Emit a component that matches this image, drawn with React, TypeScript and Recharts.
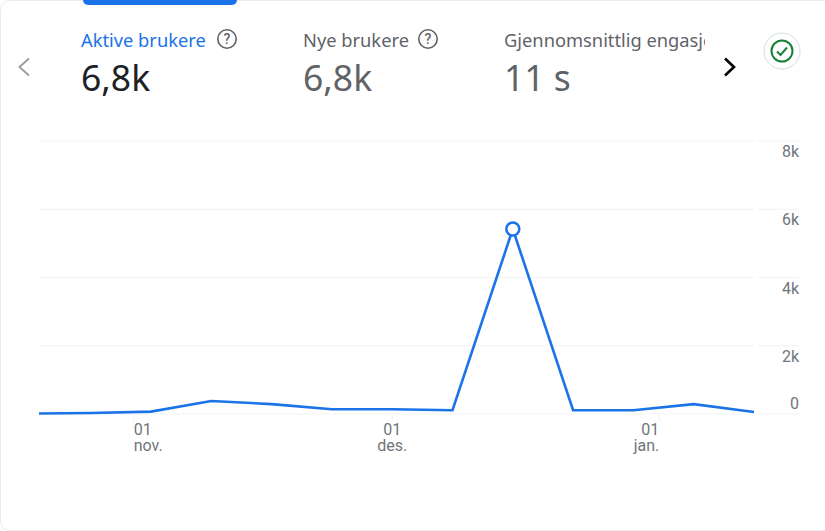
import { LineChart, Line, XAxis, YAxis, CartesianGrid } from "recharts";

// days relative to 1 Nov
const dayOffsets = [-11, -5, 2, 9, 16, 23, 30, 37, 44, 51, 58, 65, 72];
const activeUsers = [15, 30, 70, 380, 290, 140, 140, 110, 5420, 110, 110, 290, 60];
const peakIndex = 8;

const xTicks = [0, 30, 61];
const xDayLabels = ["01", "01", "01"];
const xMonthLabels = ["nov.", "des.", "jan."];
const xAnchors = ["start", "middle", "end"];

const yTicks = [0, 2000, 4000, 6000, 8000];
const yLabels = ["0", "2k", "4k", "6k", "8k"];

const chartData = dayOffsets.map((day, i) => ({ day, users: activeUsers[i] }));

const BLUE = "#1a73e8";
const GREY = "#5f6368";
const GRID = "#f1f3f4";
const GREEN = "#188038";
const LABEL_FONT = "'Noto Sans', sans-serif";

function MonthTick({ x, y, payload }: any) {
  const i = xTicks.indexOf(payload.value);
  return (
    <g>
      <line x1={x} x2={x} y1={y - 8} y2={y} stroke={GRID} />
      <text x={x} y={y + 13} textAnchor={xAnchors[i] as any} fontSize={16} fill="#70757a" fontFamily="Roboto">
        <tspan x={x} dy={0}>{xDayLabels[i]}</tspan>
        <tspan x={x} dy={16}>{xMonthLabels[i]}</tspan>
      </text>
    </g>
  );
}

function ValueTick({ x, y, payload }: any) {
  const i = yTicks.indexOf(payload.value);
  const below = payload.value !== 0;
  return (
    <g>
      <line x1={x - 4} x2={x + 37} y1={y} y2={y} stroke={GRID} />
      <text x={x + 37} y={below ? y + 16 : y - 5} textAnchor="end" fontSize={16} fill="#70757a" fontFamily="Roboto">
        {yLabels[i]}
      </text>
    </g>
  );
}

function PeakDot({ cx, cy, index }: any) {
  if (index !== peakIndex) return <g key={index} />;
  return <circle key={index} cx={cx} cy={cy} r={6.5} fill="#fff" stroke={BLUE} strokeWidth={2.5} />;
}

function HelpIcon({ left }: { left: number }) {
  return (
    <svg width={22} height={22} viewBox="0 0 22 22" style={{ position: "absolute", left, top: 28 }}>
      <circle cx={11} cy={11} r={9.2} fill="none" stroke={GREY} strokeWidth={1.6} />
      <text x={11} y={16} textAnchor="middle" fontSize={14} fill={GREY} fontFamily="Roboto" fontWeight={500}>?</text>
    </svg>
  );
}

function Metric({ left, label, value, color, valueColor, width }: any) {
  return (
    <div style={{ position: "absolute", left, top: 0, width, height: 110, overflow: "hidden", whiteSpace: "nowrap", fontFamily: LABEL_FONT }}>
      <div style={{ position: "absolute", top: 28, left: 0, fontSize: 18.3, lineHeight: "24px", color }}>{label}</div>
      <div style={{ position: "absolute", top: 54, left: 0, fontSize: 35.5, lineHeight: "46px", color: valueColor }}>{value}</div>
    </div>
  );
}

export default function App() {
  return (
    <div style={{ position: "absolute", left: 0, top: 0, width: 825, height: 531, background: "#fff", overflow: "hidden" }}>
      <div style={{ position: "absolute", left: 0, top: 0, width: 840, height: 529, border: "1px solid #e8eaed", borderRadius: 10 }} />
      <div style={{ position: "absolute", left: 83, top: 0, width: 154, height: 5, background: BLUE, borderRadius: "0 0 5px 5px" }} />

      <Metric left={81} width={135} label="Aktive brukere" value="6,8k" color={BLUE} valueColor="#202124" />
      <HelpIcon left={216} />
      <Metric left={303} width={115} label="Nye brukere" value="6,8k" color={GREY} valueColor={GREY} />
      <HelpIcon left={417} />
      <Metric left={504} width={201} label="Gjennomsnittlig engasjement" value="11 s" color={GREY} valueColor={GREY} />

      <svg width={16} height={24} viewBox="0 0 16 24" style={{ position: "absolute", left: 16, top: 55 }}>
        <path d="M13 3.5 L3.5 12 L13 20.5" fill="none" stroke="#9aa0a6" strokeWidth={2} />
      </svg>
      <svg width={16} height={24} viewBox="0 0 16 24" style={{ position: "absolute", left: 722, top: 55 }}>
        <path d="M3 3.5 L12 12 L3 20.5" fill="none" stroke="#000" strokeWidth={2.6} />
      </svg>
      <svg width={38} height={38} viewBox="0 0 38 38" style={{ position: "absolute", left: 763, top: 32 }}>
        <circle cx={19} cy={19} r={18} fill="#fff" stroke="#dadce0" />
        <circle cx={19} cy={19} r={10.5} fill="none" stroke={GREEN} strokeWidth={2} />
        <path d="M14 19.5 L17.5 23 L24 15.5" fill="none" stroke={GREEN} strokeWidth={2} />
      </svg>

      <div style={{ position: "absolute", left: 0, top: 0 }}>
        <LineChart width={825} height={531} data={chartData} margin={{ top: 141, right: 11, bottom: 57, left: 39 }}>
          <CartesianGrid horizontal vertical={false} stroke={GRID} />
          <XAxis
            dataKey="day"
            type="number"
            domain={[-11, 72]}
            ticks={xTicks}
            interval={0}
            axisLine={false}
            tickLine={false}
            height={60}
            tick={<MonthTick />}
          />
          <YAxis
            orientation="right"
            domain={[0, 8000]}
            ticks={yTicks}
            axisLine={false}
            tickLine={false}
            width={60}
            tick={<ValueTick />}
          />
          <Line
            type="linear"
            dataKey="users"
            stroke={BLUE}
            strokeWidth={2.6}
            dot={PeakDot}
            activeDot={false}
            isAnimationActive={false}
          />
        </LineChart>
      </div>
    </div>
  );
}
